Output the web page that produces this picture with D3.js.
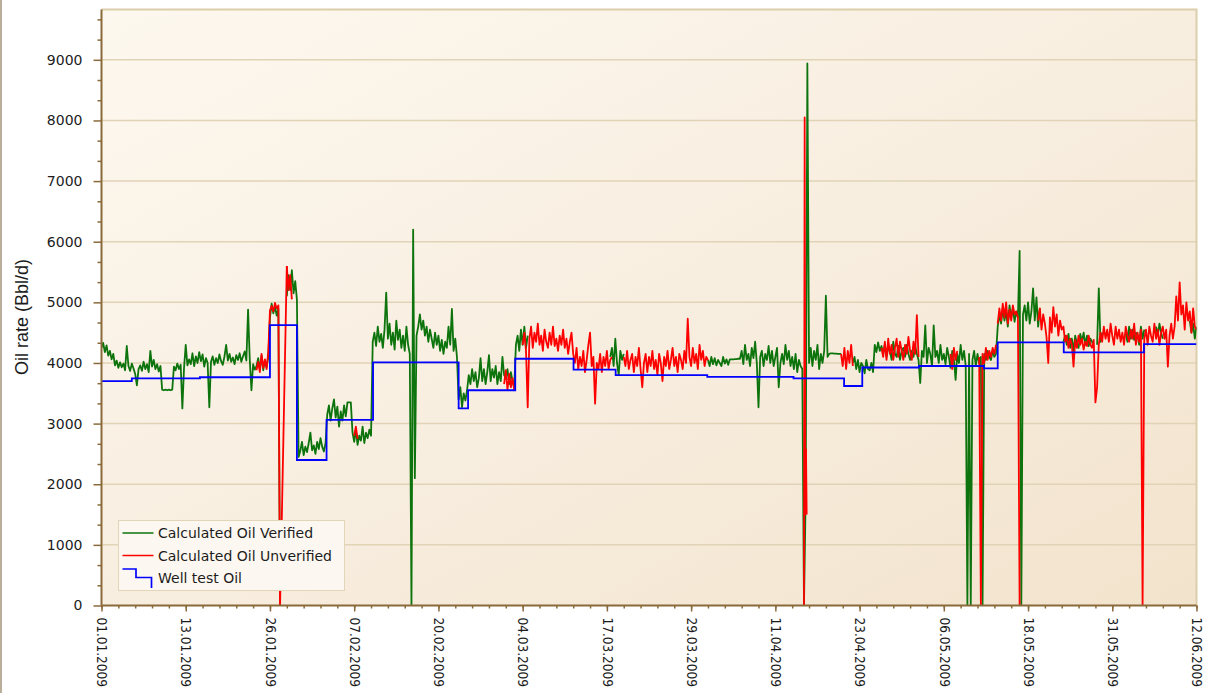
<!DOCTYPE html>
<html>
<head>
<meta charset="utf-8">
<script src="https://cdn.jsdelivr.net/npm/d3@7"></script>
<style>
  html, body { margin: 0; padding: 0; background: #ffffff; }
  svg { display: block; }
</style>
</head>
<body>
<svg id="chart" width="1210" height="693"></svg>
<script>
// ---------- data ----------
// Days are counted from 01.01.2009 00:00. Each run is [startDay, stepDays, values].
const startDate = Date.UTC(2009, 0, 1);
const periodDays = 162.5;

const xTickLabels = ["01.01.2009", "13.01.2009", "26.01.2009", "07.02.2009", "20.02.2009",
  "04.03.2009", "17.03.2009", "29.03.2009", "11.04.2009", "23.04.2009", "06.05.2009",
  "18.05.2009", "31.05.2009", "12.06.2009"];
const yTickValues = [0, 1000, 2000, 3000, 4000, 5000, 6000, 7000, 8000, 9000];
const yMax = 9830;

const legendLabels = ["Calculated Oil Verified", "Calculated Oil Unverified", "Well test Oil"];

// Calculated oil rate, verified (Bbl/d)
const verifiedRuns = [
  [0, 0.25, [
    4250,4330,4180,4290, 4120,4200,4060,4150, 3960,4040,3920,4010, 3930,3990,3880,4280,
    3950,3870,3990,3910, 3820,3630,3900,3960, 3870,4020,3900,3980, 3850,4200,3940,4050,
    3900,3980,3860,3950, 3560,3550,3560,3550, 3560,3550,3560,3940, 3880,3990,3900,3970,
    3250,3920,4300,3960, 4060,3980,4160,3950, 4110,4000,4180,4030, 4140,3940,4080,4000,
    3270,4020,4110,3970, 4080,4000,4140,4030, 3970,4110,4300,4040, 4150,4020,4090,3980,
    4130,4050,4160,4020, 4110,4190,4040,4880, 4060,3550,3980,3890, 3950,4080,3900,4120,
    3880,4050,3930,4100, 4750,4980,4820,4930, 4780,4900,0]],
  [27.5, 0.25, [
    5100,5450,5200,5530,5150,5350,5050,2450, 2550,2700,
    2480,2620,2530,2680, 2850,2560,2640,2500, 2700,2580,2760,2620, 2540,2680,3150,3300,
    3050,3250,3400,3100, 3280,2950,3200,3050, 3300,3120,3350,3350, 3350,2850,2700,2900,
    2650,2800,2720,2950, 2680,2850,2760,2900, 2800,4350,4500,4280, 4600,4350,4480,4250,
    4550,5160,4400,4650, 4300,4500,4220,4700, 4380,4550,4250,4450, 4200,4600,4300,4150,
    0,6200,2100,4450, 4600,4800,4550,4700, 4450,4600,4350,4550, 4400,4250,4500,4300,
    4450,4200,4380,4150, 4350,4250,4600,4300, 4890,4200,4400,4100, 3400,3600,3270,3500,
    3380,3550,3800,3650, 3900,3700,3850,3600, 3750,4080,3700,3900, 3650,3850,4130,3700,
    3900,3760,3950,3650, 3850,3700,4100,3800, 3750,3900,3650,3850, 3700,3600,4300,4450,
    4200,4550,4300,4600, 4250,4450]],
  [75.5, 0.25, [4100,4250,3950,4400,4000,3800,4200,4050,4150]],
  [90, 0.25, [
    4050,3950,4100,3980, 4080,3960,4050,4000, 3950,4100,3990,4060, 3970,4060,4060,4060,
    4065,4065,4070,4070, 4200,3980,4300,4050, 4150,3950,4250,4080, 4350,4000,3270,4100,
    4200,3950,4150,4050, 4280,4000,4200,3950, 4100,4250,3600,4000, 4150,3980,4300,4050,
    4200,3950,4100,3900, 4150,3850,4050,3950, 3900,0,1800,8940, 4000,4250,3950,4200,
    4050,4300,3900,4150, 4000,4200,5110,4100, 4150,4160,4160,4155, 4155,4150,4150,4150]],
  [111.5, 0.25, [
    4000,4100, 3900,4050,3850,4000, 3950,3830,4050,3900, 3880,4000,3850,4300,
    4180,4340,4200,4280, 4150,4300,4100,4250, 4200,4050,4350,4150, 4100,4280,4050,4200,
    4250,4100,4300,4150, 4050,4200,4100,4280, 4150,4050,3670,4200, 4100,4620,4000,4250,
    4150,3950,4620,4100, 4200,4000,4300,4050, 4150,3980,4250,4100, 3920,4200,4050,3720,
    4150,4000,4300,4050, 4200,3950,0,4150, 0,4050,4200,3950, 4150,4000,4100,0,
    4150,4050,4200,4100, 4050,4200,4100,4150, 4600,4800,4650,4900, 4700,4850,4600,4950,
    4750,4900,4680,4850, 4750,5850,0,4800, 4950,4700,5000,4650, 4850,5230,4700,5080,
    4600,4900]],
  [142.75, 0.25, [4350, 4450,4300,4480,4250, 4400,4200,4450,4320, 4250,4480,4350,4500,
    4300,4450,4280,4400, 4350,4250]],
  [147.75, 0.25, [4300,5230,4350,4500]],
  [152, 0.25, [4500,4350,4600,4400,4550,4380,4500,4450,4300,4600,4400,4550]],
  [156.5, 0.25, [4600,4450,4650,4500,4400]],
  [161.5, 0.25, [4700,4500,4650,4400,4600]]
];

// Calculated oil rate, unverified (Bbl/d)
const unverifiedRuns = [
  [23, 0.25, [3880,4020,3850,4150, 3920,4060,3900,4180, 4870,4940,4850,4990, 4900,4950,0]],
  [26.5, 1, [0, 5600]],
  [27.5, 0.25, [5600,5200,5450,5050]],
  [37.5, 0.25, [2800,2950,2750]],
  [59.75, 0.25, [3650,3880,3560,3820,3600,3750,3550]],
  [62.5, 0.25, [
    4300,4500, 4200,3270,4400,4600, 4250,4500,4350,4650, 4300,4450,4200,4550,
    4350,4250,4500,4300, 4600,4280,4400,4200, 4450,4300,4550,4250, 4400,4150,4350,4500,
    4150,4000,4250,3900, 4100,3950,4200,3850, 4050,4300,4500,3950, 4100,3330,4000,3900,
    4150,3850,4100,3950, 4200,3900,4050,4100]],
  [77.5, 0.25, [
    4100,3950, 4200,3900,4050,4150, 3850,4100,3950,4250, 3900,3600,4000,4150,
    3850,4100,3950,4200, 3900,4050,3800,4150, 4000,3700,4100,3950, 4200,3900,4050,4250,
    3950,4100,3850,4150, 4050,3900,4200,4000, 4730,4100,3950,4250, 4000,4150,3900,4300,
    4050,4200,3950,4100, 4050]],
  [104.25, 0.1, [0,8050,1500,2580,1500]],
  [109.75, 0.25, [4150,3950,4250,3900,4200,4000,4300,3950]],
  [115.75, 0.25, [4250, 4100,4350,4050,4400, 4150,4300,4050,4250, 4400,4100,4350,4200,
    4050,4300,4150,4430, 4200,4050,4350,4150, 4790,4100]],
  [126, 0.25, [4150,3900,4250,4050,4200]],
  [130.25, 0.25, [4100,0,4150,4000,4250,4050,4200,4100,4250,4150,4300]],
  [133, 0.25, [4650,4900,4700,4980,4750,5000,4650,4880,4700,4950,4800,4850,4750,0]],
  [139, 0.25, [
    4700,4900,4550,4800, 4650,4420,4000,4750, 4500,4920,4600,4800, 4450,4700,4550,4600,
    4350,4450,4250,4400, 4300,3940,4380,4250, 4450,4300,4400,4220, 4350,4280,4450,4300,
    4250,4380,3350,3600, 4300,4500,4350,4600, 4400,4550,4350,4650, 4450,4300,4600,4400,
    4550,4350,4500,4300, 4600,4450,4350,4550, 4400,4650,4300,4500, 4350,4550,0,4400,
    4550,4300,4600,4450, 4350,4650,4400,4550, 4300,4500,4600,4400, 4550,3940,4450,4650,
    4400,4600,5100,4700, 5330,4800,4950,4550, 5000,4700,4850,4500, 4900,4600,4550]]
];

// Well test oil rate: value holds from each start day until the next one
const wellTestDays = [0, 4.5, 14.6, 25, 29, 33.4, 40.3, 53.0, 54.4, 61.4, 70.05, 76.3,
  89.9, 102.7, 110.2, 112.9, 121.3, 130.95, 133.0, 142.8, 154.7];
const wellTestOil = [3700, 3745, 3765, 4625, 2400, 3060, 4010, 3250, 3550, 4070, 3890, 3800,
  3770, 3745, 3620, 3925, 3950, 3910, 4340, 4175, 4310];

// ---------- layout ----------
const W = 1210, H = 693;
const plot = { left: 101.5, right: 1196.5, top: 9.5, bottom: 605.5 };
const colors = { verified: "#0d740d", unverified: "#ff0000", wellTest: "#0000ff",
  axis: "#8a6a3a", grid: "#e1d3b6", border: "#dccdab", text: "#1c1c1c" };

const dayToDate = d => new Date(startDate + d * 864e5);

const svg = d3.select("#chart");

const x = d3.scaleUtc()
  .domain([dayToDate(0), dayToDate(periodDays)])
  .range([plot.left, plot.right]);
const y = d3.scaleLinear()
  .domain([0, yMax])
  .range([plot.bottom, plot.top]);

// ---------- background ----------
const defs = svg.append("defs");
const grad = defs.append("linearGradient").attr("id", "plotBg")
  .attr("x1", 0).attr("y1", 0).attr("x2", 1).attr("y2", 1);
grad.append("stop").attr("offset", 0).attr("stop-color", "#fdf8ef");
grad.append("stop").attr("offset", 0.5).attr("stop-color", "#f8eee0");
grad.append("stop").attr("offset", 1).attr("stop-color", "#f2e3cc");

defs.append("clipPath").attr("id", "plotClip")
  .append("rect")
  .attr("x", plot.left).attr("y", plot.top - 1)
  .attr("width", plot.right - plot.left).attr("height", plot.bottom - plot.top + 1);

svg.append("rect").attr("width", W).attr("height", H).attr("fill", "#ffffff");
svg.append("line")
  .attr("x1", 1).attr("x2", 1).attr("y1", 0).attr("y2", H)
  .attr("stroke", "#b9ad9c").attr("stroke-width", 2);

svg.append("rect")
  .attr("x", plot.left).attr("y", plot.top)
  .attr("width", plot.right - plot.left).attr("height", plot.bottom - plot.top)
  .attr("fill", "url(#plotBg)");

// horizontal grid lines at major ticks
svg.append("g")
  .selectAll("line")
  .data(yTickValues.filter(v => v > 0))
  .join("line")
  .attr("x1", plot.left).attr("x2", plot.right)
  .attr("y1", d => y(d)).attr("y2", d => y(d))
  .attr("stroke", colors.grid).attr("stroke-width", 1.5);

// plot frame (top and right)
svg.append("path")
  .attr("d", `M${plot.left},${plot.top}H${plot.right}V${plot.bottom}`)
  .attr("fill", "none").attr("stroke", colors.border).attr("stroke-width", 2);

// ---------- series ----------
const runPoints = ([start, step, values]) =>
  values.map((v, i) => ({ date: dayToDate(start + i * step), value: v }));

const line = d3.line().x(d => x(d.date)).y(d => y(d.value));

const series = svg.append("g").attr("clip-path", "url(#plotClip)");

series.append("g")
  .selectAll("path")
  .data(verifiedRuns.map(runPoints))
  .join("path")
  .attr("d", line)
  .attr("fill", "none")
  .attr("stroke", colors.verified)
  .attr("stroke-width", 1.8)
  .attr("stroke-linejoin", "round");

series.append("g")
  .selectAll("path")
  .data(unverifiedRuns.map(runPoints))
  .join("path")
  .attr("d", line)
  .attr("fill", "none")
  .attr("stroke", colors.unverified)
  .attr("stroke-width", 1.8)
  .attr("stroke-linejoin", "round");

const wellTestPoints = wellTestDays.map((d, i) => ({ date: dayToDate(d), value: wellTestOil[i] }));
wellTestPoints.push({ date: dayToDate(periodDays), value: wellTestOil[wellTestOil.length - 1] });

series.append("path")
  .datum(wellTestPoints)
  .attr("d", d3.line().curve(d3.curveStepAfter).x(d => x(d.date)).y(d => y(d.value)))
  .attr("fill", "none")
  .attr("stroke", colors.wellTest)
  .attr("stroke-width", 1.8);

// ---------- axes ----------
const axisFont = "'DejaVu Sans', Verdana, sans-serif";

// Y axis: major ticks with labels, minor ticks every third of a step
const yMinor = d3.range(0, yMax, 1000 / 3).filter((v, i) => i % 3 !== 0);
svg.append("g")
  .attr("transform", `translate(${plot.left},0)`)
  .call(d3.axisLeft(y).tickValues(yMinor).tickSize(4).tickFormat(""))
  .call(g => g.select(".domain").remove())
  .call(g => g.selectAll("line").attr("stroke", colors.axis).attr("stroke-width", 1.5));

const yAxis = svg.append("g")
  .attr("transform", `translate(${plot.left},0)`)
  .call(d3.axisLeft(y).tickValues(yTickValues).tickSize(8).tickPadding(11).tickSizeOuter(0)
    .tickFormat(d3.format("d")));
yAxis.select(".domain").attr("stroke", colors.axis).attr("stroke-width", 2)
  .attr("d", `M0,${plot.top}V${plot.bottom}`);
yAxis.selectAll(".tick line").attr("stroke", colors.axis).attr("stroke-width", 1.5);
yAxis.selectAll(".tick text")
  .attr("fill", colors.text)
  .style("font-family", axisFont)
  .style("font-size", "14px");

// X axis: ticks every 12.5 days, minor ticks every 2.5 days
const xMajor = xTickLabels.map((_, i) => dayToDate(i * periodDays / (xTickLabels.length - 1)));
const xMinor = d3.range(0, periodDays + 0.01, 2.5).map(dayToDate);

svg.append("g")
  .attr("transform", `translate(0,${plot.bottom})`)
  .call(d3.axisBottom(x).tickValues(xMinor).tickSize(3).tickFormat(""))
  .call(g => g.select(".domain").remove())
  .call(g => g.selectAll("line").attr("stroke", colors.axis).attr("stroke-width", 1.5));

const xAxis = svg.append("g")
  .attr("transform", `translate(0,${plot.bottom})`)
  .call(d3.axisBottom(x).tickValues(xMajor).tickSize(6).tickSizeOuter(0)
    .tickFormat((d, i) => xTickLabels[i]));
xAxis.select(".domain").attr("stroke", colors.axis).attr("stroke-width", 2)
  .attr("d", `M${plot.left},0H${plot.right}`);
xAxis.selectAll(".tick line").attr("stroke", colors.axis).attr("stroke-width", 1.5);
xAxis.selectAll(".tick text")
  .attr("fill", colors.text)
  .attr("transform", "rotate(90)")
  .attr("x", 12).attr("y", 0).attr("dy", "0.35em")
  .style("text-anchor", "start")
  .style("font-family", "'DejaVu Sans Condensed', 'DejaVu Sans', sans-serif")
  .style("font-stretch", "condensed")
  .style("font-size", "13.5px");

// Y axis title
svg.append("text")
  .attr("transform", `translate(22,317) rotate(-90)`)
  .attr("text-anchor", "middle")
  .attr("dominant-baseline", "central")
  .attr("fill", colors.text)
  .style("font-family", "'Liberation Sans', Arial, sans-serif")
  .style("font-size", "18px")
  .text("Oil rate (Bbl/d)");

// ---------- legend ----------
const legend = svg.append("g").attr("transform", "translate(118.5,520.5)");
legend.append("rect")
  .attr("width", 226).attr("height", 70)
  .attr("fill", "#fcf8f1").attr("stroke", "#e2d5b8").attr("stroke-width", 1);

const legendRows = [
  { label: legendLabels[0], color: colors.verified, y: 12.5, kind: "line" },
  { label: legendLabels[1], color: colors.unverified, y: 35, kind: "line" },
  { label: legendLabels[2], color: colors.wellTest, y: 57.5, kind: "step" }
];
legendRows.forEach(r => {
  if (r.kind === "line") {
    legend.append("line")
      .attr("x1", 4).attr("x2", 35).attr("y1", r.y).attr("y2", r.y)
      .attr("stroke", r.color).attr("stroke-width", 1.5);
  } else {
    legend.append("path")
      .attr("d", `M4,${r.y - 9}H17.5V${r.y - 0.5}H33V${r.y + 10}`)
      .attr("fill", "none").attr("stroke", r.color).attr("stroke-width", 1.7);
  }
  legend.append("text")
    .attr("x", 39.5).attr("y", r.y)
    .attr("dominant-baseline", "central")
    .attr("fill", colors.text)
    .style("font-family", axisFont)
    .style("font-size", "14px")
    .text(r.label);
});
</script>
</body>
</html>
